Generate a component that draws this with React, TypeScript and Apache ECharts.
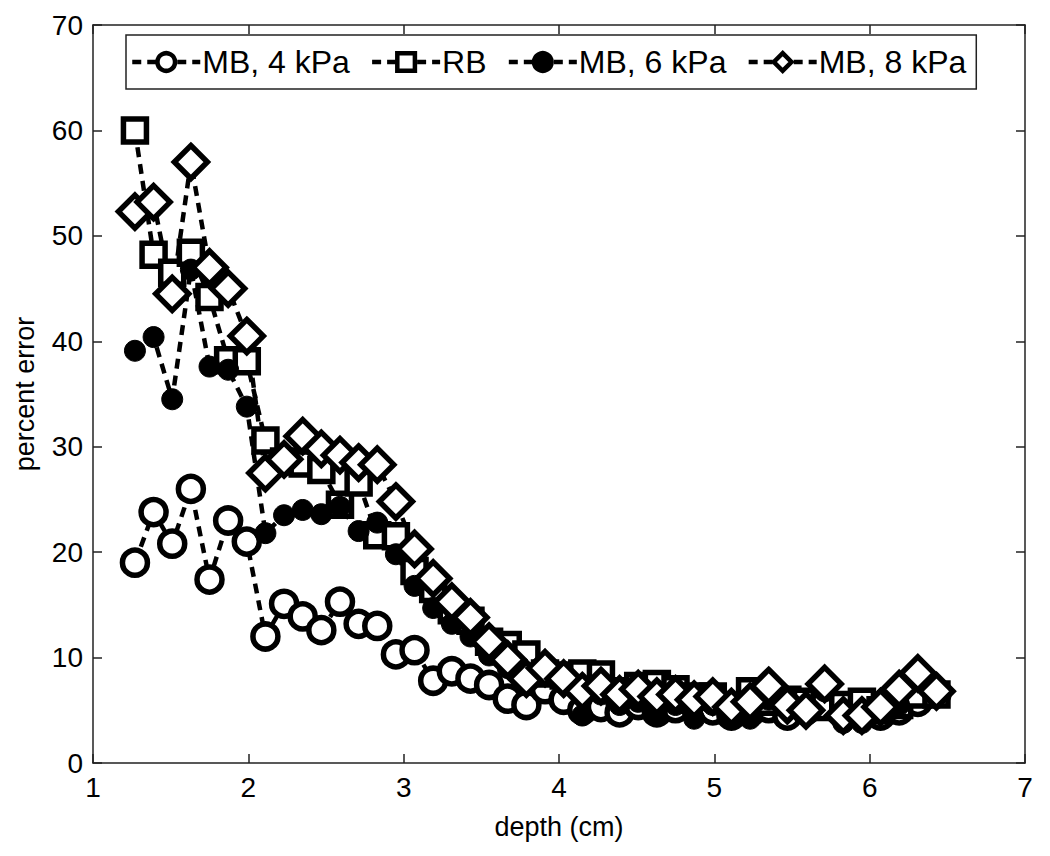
import React, { useEffect, useRef } from "react";
import * as echarts from "echarts";

const depths = [1.27, 1.39, 1.51, 1.63, 1.75, 1.87, 1.99, 2.11, 2.23, 2.35, 2.47, 2.59, 2.71, 2.83, 2.95, 3.07, 3.19, 3.31, 3.43, 3.55, 3.67, 3.79, 3.91, 4.03, 4.15, 4.27, 4.39, 4.51, 4.63, 4.75, 4.87, 4.99, 5.11, 5.23, 5.35, 5.47, 5.59, 5.71, 5.83, 5.95, 6.07, 6.19, 6.31, 6.43];

const mb4 = [19.0, 23.8, 20.8, 26.0, 17.4, 23.0, 21.0, 12.0, 15.1, 13.9, 12.6, 15.3, 13.2, 13.0, 10.3, 10.7, 7.8, 8.7, 8.0, 7.4, 6.1, 5.5, 7.0, 6.0, 5.0, 5.3, 4.8, 5.5, 4.8, 5.2, 5.5, 5.0, 4.5, 4.8, 5.2, 4.5, 5.0, 5.5, 4.8, 5.0, 4.5, 5.0, 5.8, 6.6];
const rb = [60.0, 48.2, 46.5, 48.4, 44.2, 38.2, 38.1, 30.6, 28.6, 28.4, 27.8, 24.5, 26.6, 21.6, 21.5, 18.2, 16.5, 14.5, 13.5, 11.5, 11.2, 10.3, 8.5, 8.3, 8.5, 8.4, 6.8, 7.3, 7.5, 7.0, 6.3, 6.3, 5.0, 6.8, 5.8, 6.0, 5.8, 5.3, 5.5, 5.8, 5.0, 5.5, 6.5, 6.5];
const mb6 = [39.1, 40.4, 34.5, 46.8, 37.6, 37.3, 33.8, 21.8, 23.5, 24.0, 23.6, 24.3, 22.0, 22.8, 19.8, 16.8, 14.7, 13.2, 12.0, 10.2, 9.0, 8.2, 8.6, 7.5, 4.5, 6.5, 5.5, 5.8, 4.8, 5.5, 4.2, 5.5, 4.2, 4.2, 6.0, 5.5, 4.5, 6.8, 3.8, 3.8, 4.8, 5.5, 8.0, 6.5];
const mb8 = [52.3, 53.2, 44.5, 57.0, 47.0, 45.0, 40.5, 27.5, 28.8, 31.0, 29.8, 29.2, 28.5, 28.3, 24.8, 20.3, 17.5, 15.3, 13.8, 11.5, 9.8, 8.0, 9.0, 8.0, 6.8, 7.3, 6.5, 7.0, 6.3, 6.5, 6.0, 6.3, 5.3, 5.8, 7.3, 5.5, 5.0, 7.5, 4.5, 4.5, 5.3, 7.0, 8.5, 6.8];

const seriesNames = ["MB, 4 kPa", "RB", "MB, 6 kPa", "MB, 8 kPa"];
const xTicks = [1, 2, 3, 4, 5, 6, 7];
const yTicks = [0, 10, 20, 30, 40, 50, 60, 70];

const FONT = "'Liberation Sans', Arial, sans-serif";

export default function App() {
  const ref = useRef<HTMLDivElement>(null);
  useEffect(() => {
    if (!ref.current) return;
    const chart = echarts.init(ref.current, undefined, { renderer: "svg" });
    const pair = (vals: number[]) => depths.map((d, i) => [d, vals[i]]);
    const line = { color: "#000", width: 4.5, type: [10, 7] as any };
    const mk = (name: string, vals: number[], symbol: string, size: number, filled: boolean) => ({
      type: "line",
      name,
      data: pair(vals),
      symbol,
      symbolSize: size,
      showAllSymbol: true,
      lineStyle: line,
      itemStyle: filled
        ? { color: "#000", borderColor: "#000", borderWidth: 1 }
        : { color: "#fff", borderColor: "#000", borderWidth: 5.5 },
      emphasis: { disabled: true },
    });
    const xAxisBase = {
      type: "value",
      min: 1,
      max: 7,
      interval: 1,
      axisLine: { show: true, onZero: false, lineStyle: { color: "#222", width: 1.5 } },
      axisTick: { show: true, inside: true, length: 9, lineStyle: { color: "#222", width: 1.5 } },
      splitLine: { show: false },
    };
    const yAxisBase = {
      type: "value",
      min: 0,
      max: 70,
      interval: 10,
      axisLine: { show: true, onZero: false, lineStyle: { color: "#222", width: 1.5 } },
      axisTick: { show: true, inside: true, length: 9, lineStyle: { color: "#222", width: 1.5 } },
      splitLine: { show: false },
    };
    chart.setOption({
      animation: false,
      backgroundColor: "#fff",
      textStyle: { fontFamily: FONT },
      grid: { left: 93, right: 25, top: 25, bottom: 93, containLabel: false },
      legend: {
        data: seriesNames,
        left: 126,
        top: 35,
        padding: [11, 10, 11, 4],
        itemGap: 20,
        itemWidth: 68,
        itemHeight: 22,
        borderColor: "#222",
        borderWidth: 1.5,
        backgroundColor: "#fff",
        itemStyle: { borderWidth: 4.5 },
        lineStyle: { width: 4.5, type: [9, 6] },
        textStyle: { fontSize: 32, color: "#000", fontFamily: FONT, padding: [0, 0, 0, -3] },
      },
      xAxis: [
        {
          ...xAxisBase,
          position: "bottom",
          name: "depth (cm)",
          nameLocation: "middle",
          nameGap: 50,
          nameTextStyle: { fontSize: 27, color: "#000", fontFamily: FONT },
          axisLabel: {
            fontSize: 28,
            color: "#000",
            margin: 10,
            fontFamily: FONT,
            formatter: (v: number) => (xTicks.includes(v) ? String(v) : ""),
          },
        },
        { ...xAxisBase, position: "top", axisLabel: { show: false } },
      ],
      yAxis: [
        {
          ...yAxisBase,
          position: "left",
          name: "percent error",
          nameLocation: "middle",
          nameGap: 55,
          nameRotate: 90,
          nameTextStyle: { fontSize: 27, color: "#000", fontFamily: FONT },
          axisLabel: {
            fontSize: 28,
            color: "#000",
            margin: 10,
            fontFamily: FONT,
            formatter: (v: number) => (yTicks.includes(v) ? String(v) : ""),
          },
        },
        { ...yAxisBase, position: "right", axisLabel: { show: false } },
      ],
      series: [
        mk(seriesNames[0], mb4, "circle", 25, false),
        mk(seriesNames[1], rb, "rect", 23, false),
        mk(seriesNames[2], mb6, "circle", 21, true),
        mk(seriesNames[3], mb8, "diamond", 33, false),
      ],
    });
    return () => chart.dispose();
  }, []);
  return <div ref={ref} style={{ width: 1050, height: 856, position: "absolute", left: 0, top: 0 }} />;
}
